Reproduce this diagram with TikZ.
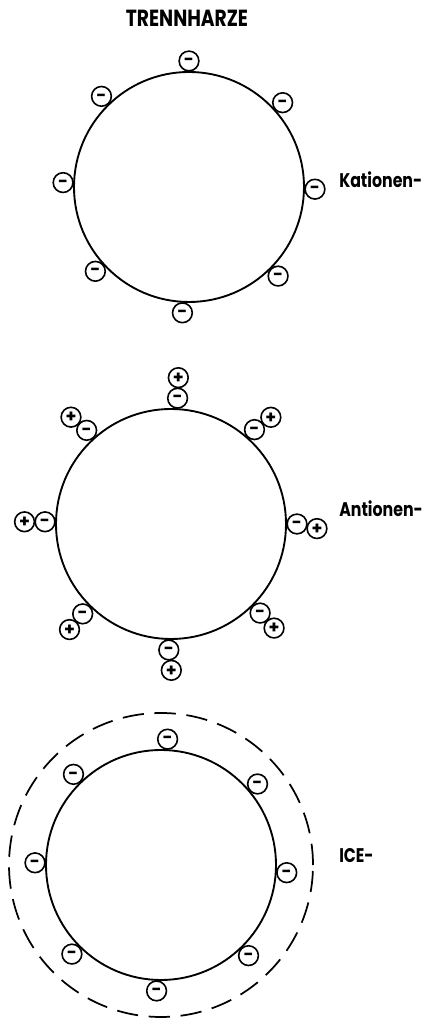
\documentclass[tikz,border=0pt]{standalone}
\usepackage{fontspec}
\setmainfont{Poppins}
\newfontfamily\schmal[FakeStretch=0.8]{Poppins}
\usetikzlibrary{calc}

% Vorzeichen in den Ladungskreisen
\newcommand{\minuszeichen}{\smash{\raisebox{-0.27em}{-}}}
\newcommand{\pluszeichen}{\smash{\raisebox{-0.33em}{+}}}

\tikzset{
  harz/.style={line width=1.4pt},
  huelle/.style={line width=1.3pt, dash pattern=on 16pt off 8pt},
  ladung/.style={circle, draw, line width=1.2pt, fill=white, inner sep=0pt,
    minimum size=14.8pt, font=\fontsize{13}{13}\selectfont\bfseries},
  beschriftung/.style={anchor=west, inner sep=0pt, font=\schmal\fontsize{14.8}{15}\selectfont\bfseries},
  titel/.style={inner sep=0pt, font=\schmal\fontsize{17.5}{18}\selectfont\bfseries}
}

\begin{document}
\begin{tikzpicture}[x=0.75pt,y=0.75pt]
\useasboundingbox (0,0) rectangle (435,1020);

% Titel
\node[titel] (titel) at (187,1002) {TRENNHARZE};

% ------------------- Kationen -------------------
\coordinate (kat) at (189,833);
\draw[harz] (kat) circle (115);
\foreach \w [count=\i] in {90,42,-1,-45,-93,-138,178,134}
  \node[ladung] (kat-\i) at ($(kat)+(\w:126)$) {\minuszeichen};
\node[beschriftung] (kat-text) at (339,840) {Kationen-};

% ------------------- Antionen -------------------
\coordinate (ant) at (171,496);
\draw[harz] (ant) circle (115);
\foreach \w/\v [count=\i] in {87/88,48.5/37,0/-13,-45/-47,-91/-83,-134.5/-130,179/180,132/140}
{
  \node[ladung] (ant-\i) at ($(ant)+(\w:126)$) {\minuszeichen};
  \node[ladung] (gegen-\i) at ($(ant-\i)+(\v:20.5)$) {\pluszeichen};
}
\node[beschriftung] (ant-text) at (339,511) {Antionen-};

% ------------------- ICE -------------------
\coordinate (ice) at (161,155);
\draw[harz] (ice) circle (115);
\draw[huelle] (ice) circle (152);
\foreach \w [count=\i] in {87,40,-3.5,-46,-92,-135,179,134}
  \node[ladung] (ice-\i) at ($(ice)+(\w:126)$) {\minuszeichen};
\node[beschriftung] (ice-text) at (339,164) {ICE-};

\end{tikzpicture}
\end{document}
